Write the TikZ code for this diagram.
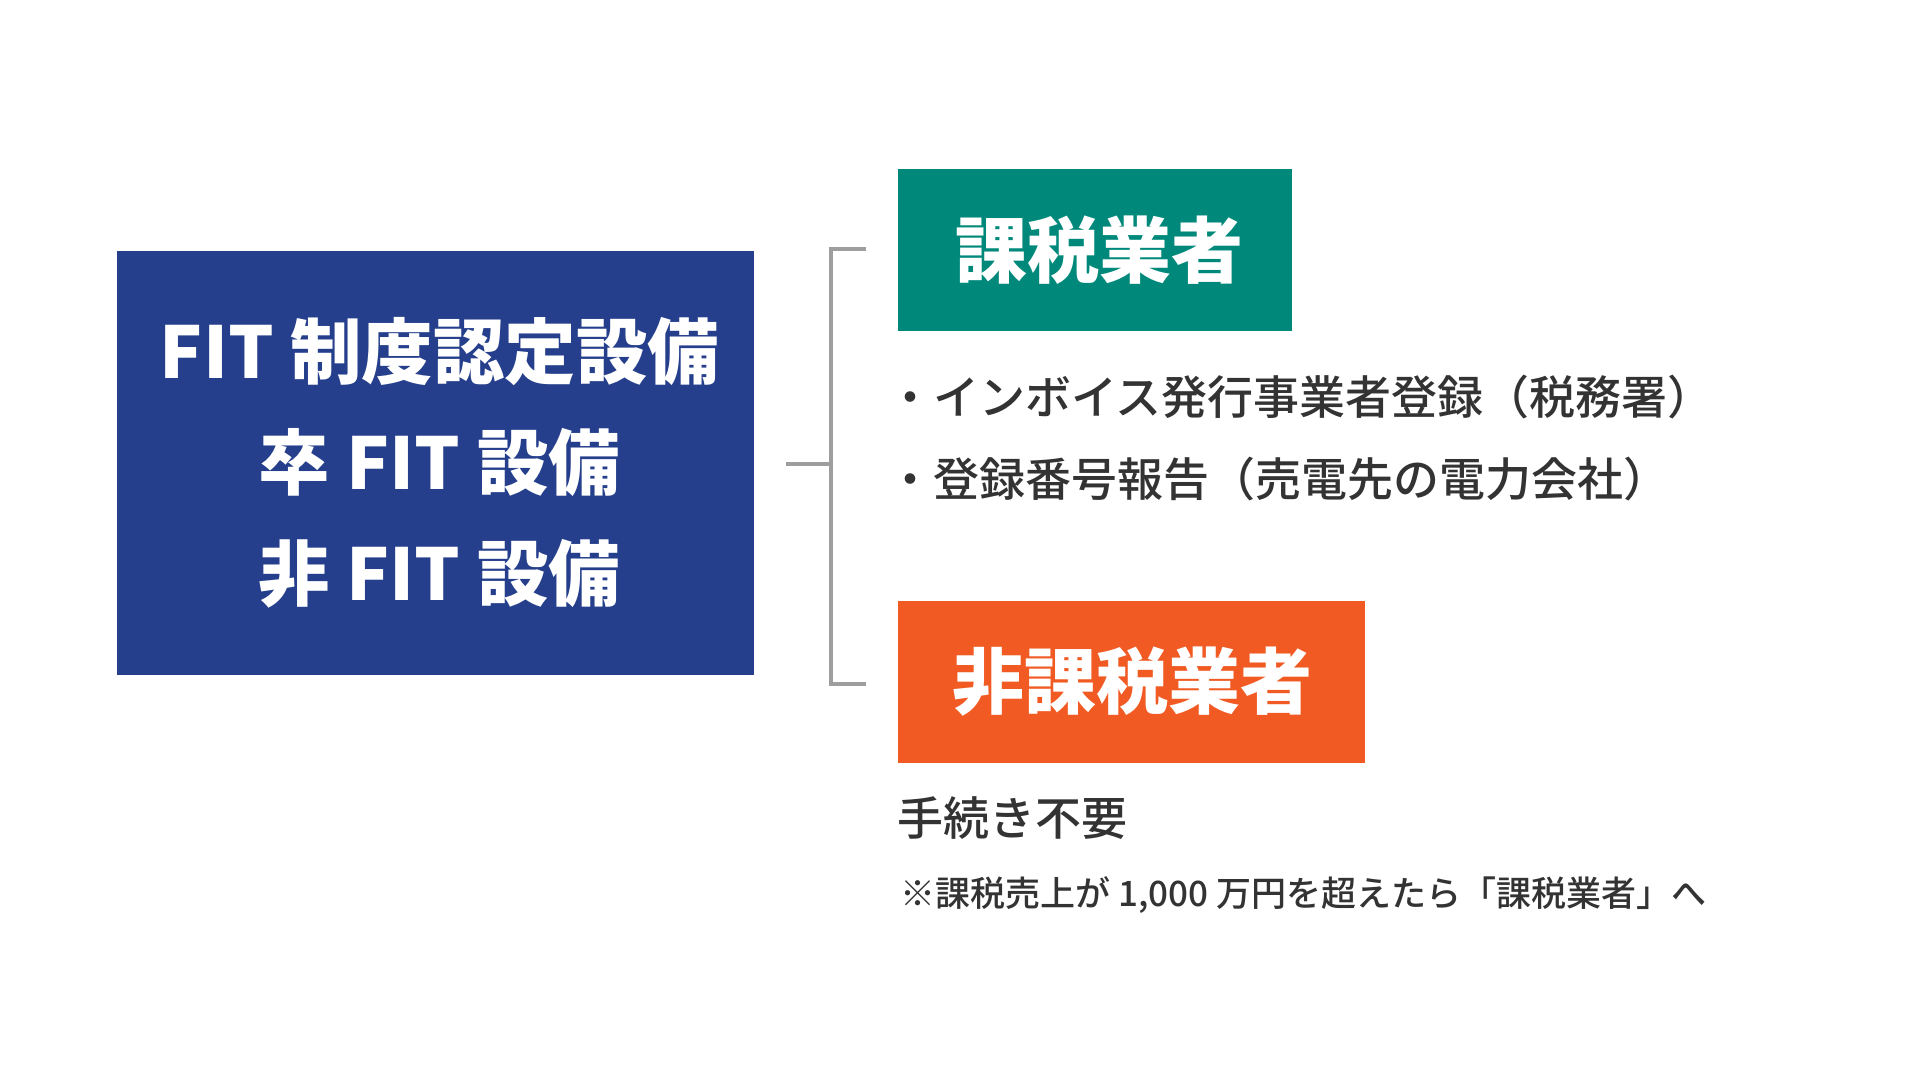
\documentclass[tikz,border=0pt]{standalone}
\usepackage{fontspec}
\newfontfamily\jp{Noto Sans CJK JP}
\newfontfamily\jpm{Noto Sans CJK JP Medium}
\definecolor{fitblue}{HTML}{253F8C}
\definecolor{taxteal}{HTML}{00897B}
\definecolor{notaxorange}{HTML}{F15A22}
\definecolor{bodytext}{HTML}{333333}
\definecolor{brkgray}{HTML}{9E9E9E}
\tikzset{
  colorbox/.style={inner sep=0pt, text=white, align=center},
  boxfont/.style={font=\jp\bfseries\fontsize{72}{111}\selectfont},
  bodyline/.style={anchor=base west, inner sep=0pt, text=bodytext},
  brk/.style={draw=brkgray, line width=4pt}
}
\begin{document}
\begin{tikzpicture}[x=1pt,y=-1pt]
\useasboundingbox (0,0) rectangle (1920,1080);
\fill[white] (0,0) rectangle (1920,1080);

% left box
\node[fill=fitblue, inner sep=0pt, minimum width=637pt, minimum height=424pt] (fit) at (435.5,463) {};
\node[colorbox, font=\jp\bfseries\fontsize{71.5}{111}\selectfont] (fittext) at (439.5,463)
  {FIT 制度認定設備\\卒 FIT 設備\\非 FIT 設備};

% right boxes
\node[fill=taxteal, inner sep=0pt, minimum width=394pt, minimum height=162pt] (tax) at (1095,250) {};
\node[colorbox, boxfont] (taxtext) at (1099,250) {課税業者};
\node[fill=notaxorange, inner sep=0pt, minimum width=467pt, minimum height=162pt] (notax) at (1131.5,682) {};
\node[colorbox, boxfont] (notaxtext) at (1132.5,682) {非課税業者};

% bracket
\coordinate (st) at (786,464);
\coordinate (jn) at (831,464);
\coordinate (ct) at (831,249);
\coordinate (cb) at (831,684);
\coordinate (bt) at (866,249);
\coordinate (bb) at (866,684);
\draw[brk] (st) -- (jn);
\draw[brk] (bt) -- (ct) -- (cb) -- (bb);

% texts
\node[bodyline, font=\jpm\fontsize{46}{56}\selectfont] (b1) at (887,414) {・インボイス発行事業者登録（税務署）};
\node[bodyline, font=\jpm\fontsize{46}{56}\selectfont] (b2) at (887,496) {・登録番号報告（売電先の電力会社）};
\node[bodyline, font=\jpm\fontsize{46}{56}\selectfont] (nt) at (897,835) {手続き不要};
\node[bodyline, font=\jpm\fontsize{35}{42}\selectfont] (nb) at (900,906) {※課税売上が 1,000 万円を超えたら「課税業者」へ};
\end{tikzpicture}
\end{document}
